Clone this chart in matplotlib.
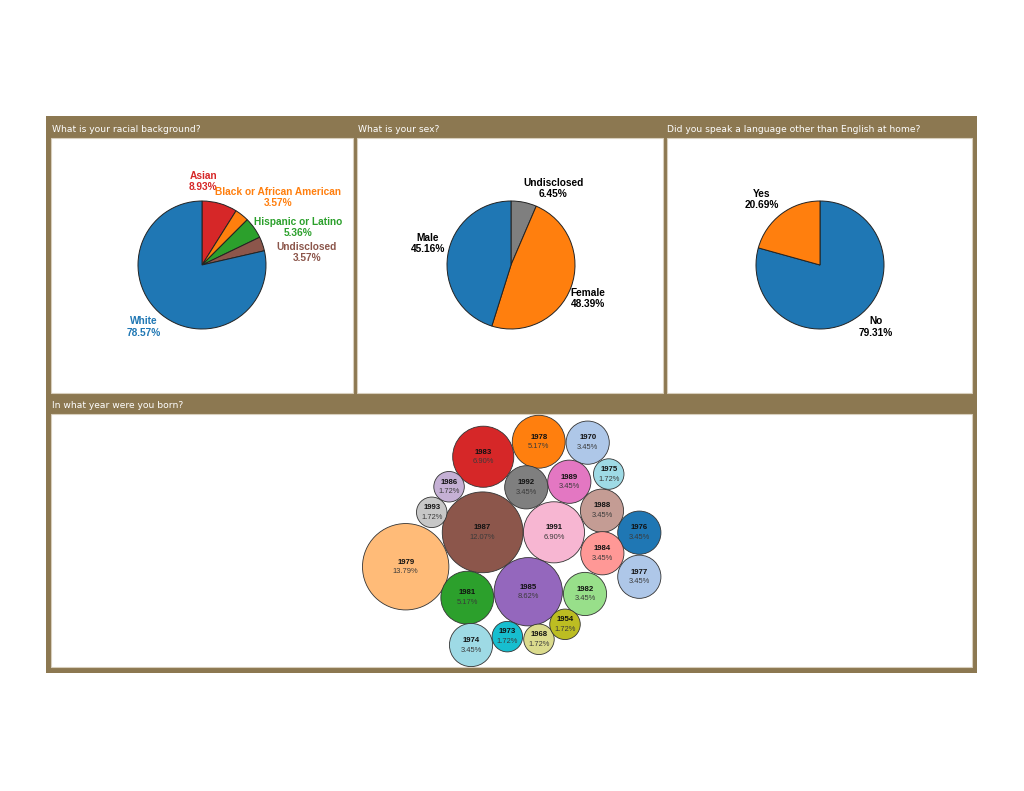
import numpy as np
import matplotlib
matplotlib.use("Agg")
import matplotlib.pyplot as plt
from matplotlib.patches import Rectangle, Circle

# ---- data ----
race_labels = ["Asian", "Black or African American", "Hispanic or Latino", "Undisclosed", "White"]
race_pct = [8.93, 3.57, 5.36, 3.57, 78.57]
race_colors = ["#d62728", "#ff7f0e", "#2ca02c", "#8c564b", "#1f77b4"]

sex_labels = ["Undisclosed", "Female", "Male"]
sex_pct = [6.45, 48.39, 45.16]
sex_colors = ["#7f7f7f", "#ff7f0e", "#1f77b4"]

lang_labels = ["No", "Yes"]
lang_pct = [79.31, 20.69]
lang_colors = ["#1f77b4", "#ff7f0e"]

years = ["1979", "1987", "1983", "1991", "1985", "1978", "1981", "1970", "1992", "1989", "1988",
         "1976", "1984", "1977", "1982", "1974", "1986", "1993", "1975", "1973", "1968", "1954"]
year_pct = [13.79, 12.07, 6.90, 6.90, 8.62, 5.17, 5.17, 3.45, 3.45, 3.45, 3.45,
            3.45, 3.45, 3.45, 3.45, 3.45, 1.72, 1.72, 1.72, 1.72, 1.72, 1.72]
# packed-bubble centres (layout units, bubble radius = sqrt(pct))
bubble_x = [-9.83, -3.21, -3.16, 2.92, 0.71, 1.61, -4.53, 5.82, 0.54, 4.24, 7.05,
            10.26, 7.08, 10.26, 5.59, -4.21, -6.10, -7.59, 7.63, -1.09, 1.63, 3.87]
bubble_y = [-1.87, 1.09, 7.59, 1.09, -4.02, 8.88, -4.53, 8.80, 4.96, 5.44, 2.95,
            1.06, -0.71, -2.73, -4.21, -8.60, 5.01, 2.81, 6.10, -7.88, -8.11, -6.82]
year_colors = ["#ffbb78", "#8c564b", "#d62728", "#f7b6d2", "#9467bd", "#ff7f0e", "#2ca02c",
               "#aec7e8", "#7f7f7f", "#e377c2", "#c49c94", "#1f77b4", "#ff9896", "#aec7e8",
               "#98df8a", "#9edae5", "#c5b0d5", "#c7c7c7", "#9edae5", "#17becf", "#dbdb8d", "#bcbd22"]

W, H = 1024, 791
FRAME = "#8c7851"
fig = plt.figure(figsize=(W / 100, H / 100), dpi=100)
fig.patch.set_facecolor("white")

# background / frames in pixel coords
bg = fig.add_axes([0, 0, 1, 1])
bg.set_xlim(0, W)
bg.set_ylim(H, 0)
bg.axis("off")
bg.add_patch(Rectangle((46, 116), 931, 557, facecolor=FRAME, edgecolor="none"))
panels = [(51, 138, 302, 255), (357, 138, 306, 255), (667, 138, 305, 255), (51, 414, 921, 253)]
for x0, y0, w, h in panels:
    bg.add_patch(Rectangle((x0, y0), w, h, facecolor="white", edgecolor="#d8cfbd", lw=0.8))

headers = [(52, 130, "What is your racial background?"),
           (358, 130, "What is your sex?"),
           (667, 130, "Did you speak a language other than English at home?"),
           (52, 405, "In what year were you born?")]
for x, y, t in headers:
    bg.text(x, y, t, color="white", fontsize=6.6, family="DejaVu Sans", ha="left", va="center")


def pie_axes(cx, cy, r=64, half=128):
    ax = fig.add_axes([(cx - half) / W, (H - cy - half) / H, 2 * half / W, 2 * half / H])
    ax.axis("off")
    return ax


def draw_pie(ax, vals, colors, labels, label_pos, label_colors):
    ax.pie(vals, colors=colors, startangle=90, counterclock=False, radius=1, center=(0, 0),
           wedgeprops=dict(edgecolor="#222222", linewidth=0.7), frame=False)
    ax.set_xlim(-2, 2)
    ax.set_ylim(-2, 2)
    ax.set_aspect("auto")
    for lab, v, (lx, ly), c in zip(labels, vals, label_pos, label_colors):
        ax.text(lx, ly, f"{lab}\n{v:.2f}%", ha="center", va="center", color=c,
                fontsize=7.3, fontweight="bold", family="Liberation Sans", linespacing=1.15)


ax1 = pie_axes(202, 265)
draw_pie(ax1, race_pct, race_colors, race_labels,
         [(0.02, 1.30), (1.19, 1.06), (1.50, 0.58), (1.64, 0.20), (-0.91, -0.97)],
         race_colors)

ax2 = pie_axes(511, 265)
draw_pie(ax2, sex_pct, sex_colors, sex_labels,
         [(0.66, 1.19), (1.20, -0.52), (-1.30, 0.34)], ["black"] * 3)

ax3 = pie_axes(820, 265)
draw_pie(ax3, lang_pct, lang_colors, lang_labels,
         [(0.875, -0.97), (-0.91, 1.02)], ["black"] * 2)

# bubble chart
k = 11.63  # px per layout unit
ox, oy = 520, 545
bx0, by0, bw, bh = 51, 414, 921, 253
axb = fig.add_axes([bx0 / W, (H - by0 - bh) / H, bw / W, bh / H])
axb.set_xlim((bx0 - ox) / k, (bx0 + bw - ox) / k)
axb.set_ylim((oy - by0 - bh) / k, (oy - by0) / k)
axb.axis("off")
for yr, p, x, y, c in zip(years, year_pct, bubble_x, bubble_y, year_colors):
    axb.add_patch(Circle((x, y), np.sqrt(p), facecolor=c, edgecolor="#333333", lw=0.6))
    axb.annotate(yr, (x, y), xytext=(0, 3.4), textcoords="offset points", ha="center",
                 va="center", fontsize=5.6, fontweight="bold", family="Liberation Sans", color="#111111")
    axb.annotate(f"{p:.2f}%", (x, y), xytext=(0, -3.6), textcoords="offset points", ha="center",
                 va="center", fontsize=5.4, family="Liberation Sans", color="#3a3a3a")

fig.savefig("out.png", dpi=100)
